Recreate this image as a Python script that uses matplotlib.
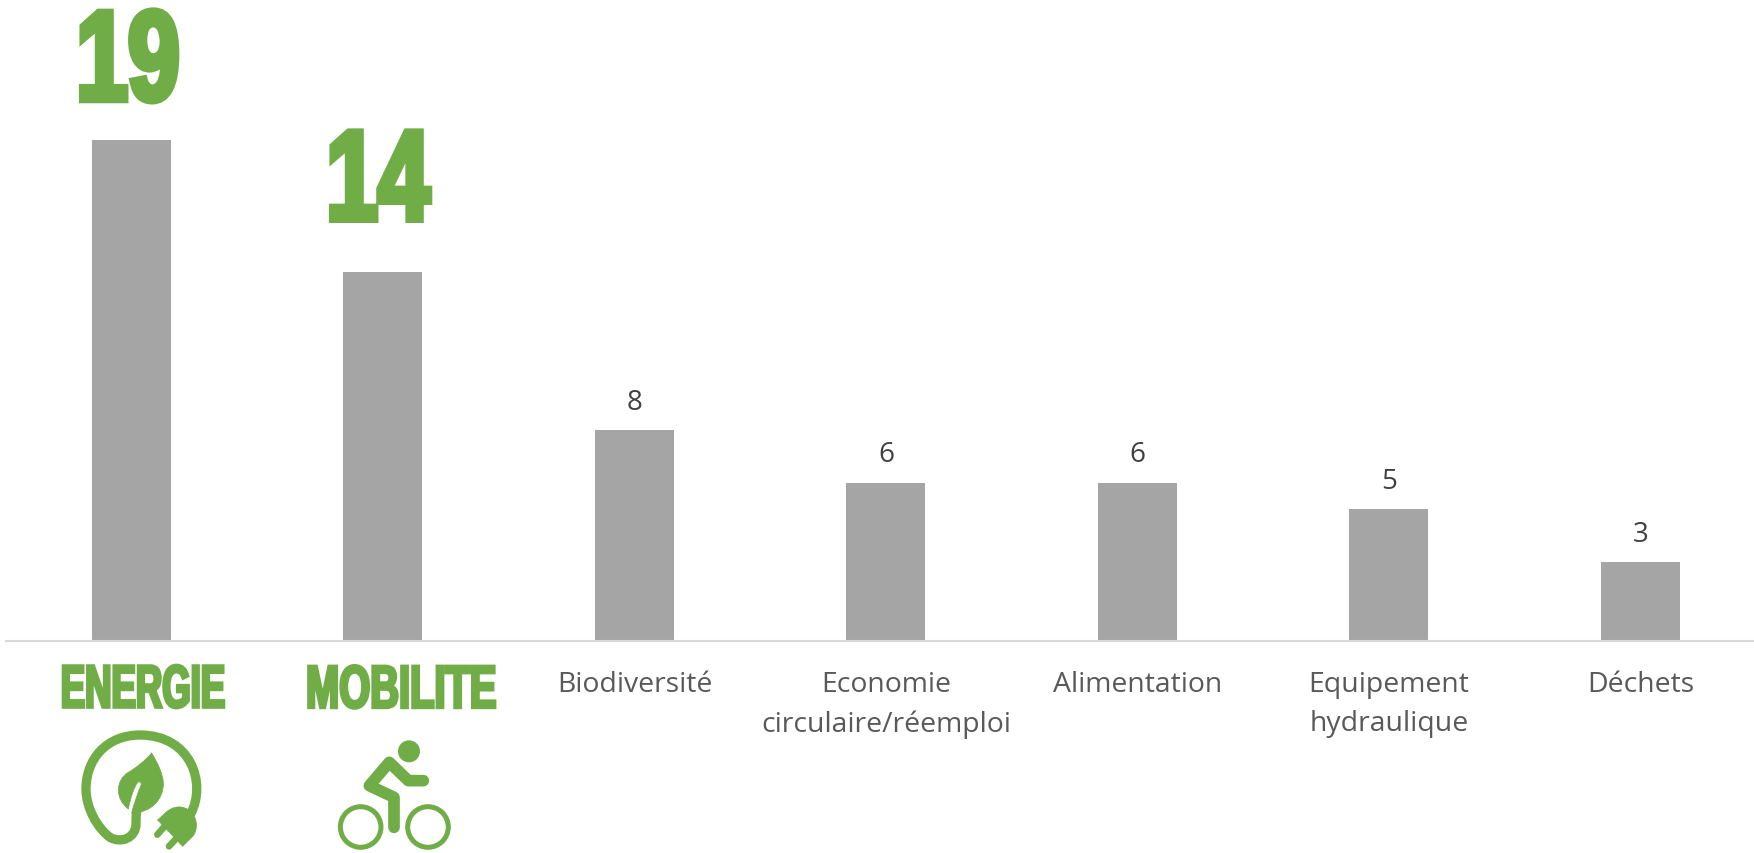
import matplotlib
matplotlib.use('Agg')
import matplotlib.pyplot as plt
import matplotlib.patheffects as pe
from matplotlib.patches import Circle, PathPatch
from matplotlib.path import Path
from matplotlib.transforms import Affine2D

categories = ['ENERGIE', 'MOBILITE', 'Biodiversité', 'Economie\ncirculaire/réemploi',
              'Alimentation', 'Equipement\nhydraulique', 'Déchets']
values = [19, 14, 8, 6, 6, 5, 3]

GREEN = '#70AD47'
GREY = '#A5A5A5'
W, H = 1754, 854
BASE = 641.6
plt.rcParams['font.family'] = ['Open Sans', 'DejaVu Sans']


class Tall(pe.AbstractPathEffect):
    # texte etroit et gras : on etire le glyphe en hauteur autour de son centre
    def __init__(self, sy, stroke):
        super().__init__()
        self.sy = sy
        self.stroke = stroke

    def draw_path(self, renderer, gc, tpath, affine, rgbFace):
        box = affine.transform_path(tpath).get_extents()
        cy = (box.y0 + box.y1) / 2
        tr = affine + Affine2D().translate(0, -cy).scale(1, self.sy).translate(0, cy)
        gc0 = renderer.new_gc()
        gc0.copy_properties(gc)
        gc0.set_linewidth(self.stroke)
        gc0.set_foreground(GREEN)
        gc0.set_joinstyle('miter')
        renderer.draw_path(gc0, tpath, tr, rgbFace)
        gc0.restore()


fig = plt.figure(figsize=(W / 100, H / 100), dpi=100)
ax = fig.add_axes([5.7 / W, (H - BASE) / H, 1760.5 / W, BASE / H])

bars = ax.bar(range(len(values)), values, width=0.314, color=GREY)
ax.set_xlim(-0.5, 6.5)
ax.set_ylim(0, BASE / 26.35)
ax.set_yticks([])
ax.set_xticks([])
for s in ['top', 'left', 'right']:
    ax.spines[s].set_visible(False)
ax.spines['bottom'].set_color('#D9D9D9')
ax.spines['bottom'].set_linewidth(1.5)

# valeurs au-dessus des barres
big_dx = [-3.5, -5]
big_dy = [76, 88]
for i, v in enumerate(values):
    if i < 2:
        ax.annotate(str(v), (i, v), xytext=(big_dx[i], big_dy[i]), textcoords='offset pixels',
                    ha='center', va='center', fontsize=67, color=GREEN,
                    family='Liberation Sans', fontweight='bold',
                    path_effects=[Tall(1.38, 4.5)])
    else:
        ax.annotate(str(v), (i, v), xytext=(0, 28), textcoords='offset pixels',
                    ha='center', va='center', fontsize=20, color='#404040')

# etiquettes de categories
big_size = [26.3, 28.7]
big_lab_dx = [11.5, 18]
for i, name in enumerate(categories):
    if i < 2:
        ax.annotate(name, (i, 0), xytext=(big_lab_dx[i], -49), textcoords='offset pixels',
                    ha='center', va='center', fontsize=big_size[i], color=GREEN,
                    family='Liberation Sans', fontweight='bold',
                    path_effects=[Tall(44 / (0.729 * big_size[i] * 100 / 72), 2.2)])
    else:
        ax.annotate(name, (i, 0), xytext=(0, -29), textcoords='offset pixels',
                    ha='center', va='top', fontsize=20.4, color='#595959', linespacing=1.56)

# pictogrammes, dessines en pixels
over = fig.add_axes([0, 0, 1, 1])
over.set_xlim(0, W)
over.set_ylim(H, 0)
over.axis('off')


def z(x, y):
    return (60 + x / 3, 710 + y / 3)


def curve(pts, codes, fill=False, lw=0):
    verts = [z(*p) for p in pts]
    p = PathPatch(Path(verts, codes), facecolor=GREEN if fill else 'none', edgecolor=GREEN,
                  lw=lw, capstyle='round', joinstyle='round')
    over.add_patch(p)


M, L, C = Path.MOVETO, Path.LINETO, Path.CURVE4

# prise : anneau puis tige
curve([(392, 315), (440, 225), (395, 78), (240, 78), (140, 78), (78, 150), (78, 240),
       (78, 300), (115, 360), (150, 385), (185, 405), (228, 385), (228, 345), (228, 335), (228, 320), (230, 308)],
      [M] + [C] * 15, lw=6.7)

# feuille
curve([(275, 132), (255, 155), (230, 175), (205, 190), (165, 215), (165, 270), (205, 300),
       (212, 265), (222, 235), (233, 220), (238, 216), (246, 220), (243, 228),
       (232, 255), (220, 290), (215, 312), (275, 312), (310, 270), (310, 225), (310, 195), (292, 160), (275, 132)],
      [M] + [C] * 21, fill=True, lw=0.5)

# fiche
curve([(293, 333), (320, 308), (345, 288), (370, 292), (385, 302), (405, 315), (420, 350), (400, 380), (368, 412), (293, 333)],
      [M, L] + [C] * 6 + [L, L], fill=True, lw=0.5)
for a, b in [((320, 345), (292, 377)), ((355, 382), (327, 412))]:
    over.plot(*zip(z(*a), z(*b)), color=GREEN, lw=4.8, solid_capstyle='round')

# cycliste
pts = [(1090, 215), (1045, 215), (988, 160), (928, 230), (1002, 265), (1002, 355)]
xs, ys = zip(*[z(*p) for p in pts])
over.plot(xs, ys, color=GREEN, lw=8.4, solid_capstyle='round', solid_joinstyle='round')
over.add_patch(Circle(z(1047, 127), 11, color=GREEN, lw=0))
for cx in [902, 1104]:
    over.add_patch(Circle(z(cx, 354), 20.3, fill=False, edgecolor=GREEN, lw=3.6))

fig.savefig('out.png', dpi=100, facecolor='white')
